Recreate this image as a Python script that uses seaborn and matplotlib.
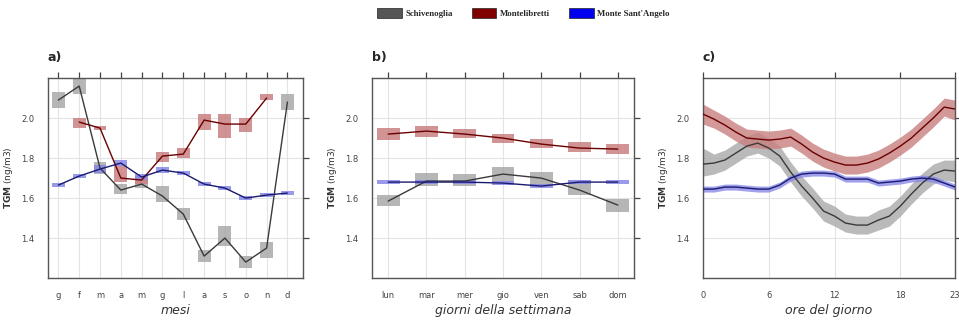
import numpy as np
import pandas as pd
import matplotlib
matplotlib.use("Agg")
import matplotlib.pyplot as plt
import matplotlib.patches as mpatches
import seaborn as sns

# ---- data ----
sites = ["Schivenoglia", "Montelibretti", "Monte Sant'Angelo"]

mesi = ["g", "f", "m", "a", "m", "g", "l", "a", "s", "o", "n", "d"]
schiv_m = [2.09, 2.16, 1.75, 1.64, 1.67, 1.61, 1.52, 1.31, 1.40, 1.28, 1.35, 2.08]
schiv_m_lo = [2.05, 2.12, 1.72, 1.62, 1.65, 1.58, 1.49, 1.28, 1.36, 1.25, 1.30, 2.04]
schiv_m_hi = [2.13, 2.20, 1.78, 1.67, 1.69, 1.66, 1.55, 1.34, 1.46, 1.31, 1.38, 2.12]
monte_m = [np.nan, 1.98, 1.95, 1.70, 1.69, 1.81, 1.82, 1.99, 1.97, 1.97, 2.10, np.nan]
monte_m_lo = [np.nan, 1.95, 1.94, 1.68, 1.67, 1.78, 1.80, 1.94, 1.90, 1.93, 2.09, np.nan]
monte_m_hi = [np.nan, 2.00, 1.96, 1.76, 1.71, 1.83, 1.85, 2.02, 2.02, 2.00, 2.12, np.nan]
msa_m = [1.665, 1.71, 1.745, 1.775, 1.705, 1.74, 1.725, 1.67, 1.65, 1.60, 1.615, 1.625]
msa_m_lo = [1.655, 1.70, 1.725, 1.76, 1.69, 1.725, 1.715, 1.66, 1.64, 1.59, 1.605, 1.615]
msa_m_hi = [1.675, 1.72, 1.765, 1.79, 1.72, 1.755, 1.735, 1.68, 1.66, 1.61, 1.625, 1.635]

giorni = ["lun", "mar", "mer", "gio", "ven", "sab", "dom"]
schiv_g = [1.585, 1.685, 1.685, 1.72, 1.70, 1.64, 1.565]
schiv_g_lo = [1.56, 1.66, 1.66, 1.68, 1.665, 1.615, 1.53]
schiv_g_hi = [1.615, 1.725, 1.72, 1.755, 1.73, 1.69, 1.595]
monte_g = [1.92, 1.935, 1.92, 1.90, 1.87, 1.85, 1.845]
monte_g_lo = [1.89, 1.905, 1.90, 1.875, 1.85, 1.83, 1.82]
monte_g_hi = [1.95, 1.96, 1.945, 1.92, 1.895, 1.88, 1.87]
msa_g = [1.68, 1.68, 1.68, 1.675, 1.66, 1.68, 1.68]
msa_g_lo = [1.67, 1.67, 1.67, 1.665, 1.65, 1.67, 1.67]
msa_g_hi = [1.69, 1.69, 1.69, 1.685, 1.67, 1.69, 1.69]

ore = list(range(24))
schiv_h = [1.77, 1.775, 1.79, 1.825, 1.86, 1.875, 1.85, 1.81, 1.73, 1.66, 1.60, 1.535,
           1.51, 1.475, 1.465, 1.465, 1.49, 1.51, 1.56, 1.62, 1.675, 1.72, 1.74, 1.735]
schiv_h_lo = [1.71, 1.72, 1.74, 1.775, 1.81, 1.825, 1.80, 1.76, 1.68, 1.61, 1.55, 1.485,
              1.46, 1.43, 1.42, 1.42, 1.44, 1.46, 1.51, 1.57, 1.625, 1.67, 1.69, 1.68]
schiv_h_hi = [1.85, 1.82, 1.84, 1.875, 1.91, 1.93, 1.90, 1.86, 1.78, 1.71, 1.65, 1.585,
              1.56, 1.52, 1.51, 1.51, 1.54, 1.56, 1.61, 1.67, 1.725, 1.77, 1.79, 1.79]
monte_h = [2.02, 1.995, 1.965, 1.93, 1.90, 1.895, 1.89, 1.895, 1.905, 1.87, 1.83, 1.80,
           1.78, 1.765, 1.765, 1.775, 1.795, 1.825, 1.86, 1.90, 1.95, 2.00, 2.055, 2.045]
monte_h_lo = [1.97, 1.95, 1.92, 1.885, 1.855, 1.85, 1.845, 1.85, 1.86, 1.825, 1.785, 1.755,
              1.735, 1.72, 1.72, 1.73, 1.75, 1.78, 1.815, 1.855, 1.905, 1.955, 2.01, 1.99]
monte_h_hi = [2.07, 2.04, 2.01, 1.975, 1.945, 1.94, 1.935, 1.94, 1.95, 1.915, 1.875, 1.845,
              1.825, 1.81, 1.81, 1.82, 1.84, 1.87, 1.905, 1.945, 1.995, 2.045, 2.10, 2.09]
msa_h = [1.645, 1.645, 1.655, 1.655, 1.65, 1.645, 1.645, 1.665, 1.70, 1.72, 1.725, 1.725,
         1.72, 1.695, 1.695, 1.695, 1.675, 1.68, 1.685, 1.695, 1.70, 1.695, 1.675, 1.655]
msa_h_lo = [v - 0.015 for v in msa_h]
msa_h_hi = [v + 0.015 for v in msa_h]

yticks = [1.4, 1.6, 1.8, 2.0]

# ---- style ----
line_cols = ["#3a3a3a", "#6b0000", "#1a1a70"]
fill_cols = ["#a9a9a9", "#c98080", "#8888e8"]
legend_cols = ["#555555", "#800000", "#0000ee"]

sns.set_style("white")
plt.rcParams["font.family"] = ["DejaVu Sans"]

fig = plt.figure(figsize=(9.59, 3.2), dpi=100)
ax_a = fig.add_axes([0.050, 0.131, 0.266, 0.625])
ax_b = fig.add_axes([0.388, 0.131, 0.273, 0.625])
ax_c = fig.add_axes([0.733, 0.131, 0.263, 0.625])


def style_axis(ax, letter, xlabel, ticklabels, xticks):
    ax.set_ylim(1.2, 2.2)
    ax.set_yticks(yticks)
    ax.set_yticklabels([f"{v:.1f}" for v in yticks], fontsize=6, color="#444444")
    ax.set_xticks(xticks)
    ax.set_xticklabels(ticklabels, fontsize=6, color="#444444")
    ax.grid(True, color="#e3e3e3", linewidth=0.8)
    ax.set_axisbelow(True)
    for s in ax.spines.values():
        s.set_color("#555555")
        s.set_linewidth(1.0)
    ax.tick_params(axis="both", which="both", direction="out", length=4, width=0.9,
                   color="#444444", top=True, right=True)
    ax.tick_params(axis="x", pad=5)
    ax.tick_params(axis="y", pad=6)
    ax.set_ylabel(r"$\mathbf{TGM}$ (ng/m3)", fontsize=6.5, color="#333333", labelpad=4)
    ax.set_xlabel(xlabel, fontsize=9, style="italic", color="#333333", labelpad=3)
    ax.text(0.0, 1.07, letter, transform=ax.transAxes, fontsize=9, fontweight="bold",
            ha="left", va="bottom")


def boxes_and_lines(ax, x, series, width):
    for (mean, lo, hi), fc in zip(series, fill_cols):
        lo = np.array(lo, dtype=float)
        hi = np.array(hi, dtype=float)
        ax.bar(x, hi - lo, bottom=lo, width=width, color=fc, alpha=0.85,
               edgecolor="none", zorder=2)
    for (mean, lo, hi), lc in zip(series, line_cols):
        df = pd.DataFrame({"x": x, "y": mean}).dropna()
        sns.lineplot(data=df, x="x", y="y", ax=ax, color=lc, linewidth=1.0,
                     zorder=3, legend=False)


# a) mesi
xm = np.arange(len(mesi))
boxes_and_lines(ax_a, xm, [(schiv_m, schiv_m_lo, schiv_m_hi),
                           (monte_m, monte_m_lo, monte_m_hi),
                           (msa_m, msa_m_lo, msa_m_hi)], 0.62)
ax_a.set_xlim(-0.5, 11.75)
style_axis(ax_a, "a)", "mesi", mesi, xm)

# b) giorni
xg = np.arange(len(giorni))
boxes_and_lines(ax_b, xg, [(schiv_g, schiv_g_lo, schiv_g_hi),
                           (monte_g, monte_g_lo, monte_g_hi),
                           (msa_g, msa_g_lo, msa_g_hi)], 0.6)
ax_b.set_xlim(-0.42, 6.42)
style_axis(ax_b, "b)", "giorni della settimana", giorni, xg)

# c) ore
for (mean, lo, hi), fc in zip([(schiv_h, schiv_h_lo, schiv_h_hi),
                               (monte_h, monte_h_lo, monte_h_hi),
                               (msa_h, msa_h_lo, msa_h_hi)], fill_cols):
    ax_c.fill_between(ore, lo, hi, color=fc, alpha=0.8, linewidth=0, zorder=2)
for mean, lc in zip([schiv_h, monte_h, msa_h], line_cols):
    sns.lineplot(x=ore, y=mean, ax=ax_c, color=lc, linewidth=1.0, zorder=3)
ax_c.set_xlim(0, 23)
style_axis(ax_c, "c)", "ore del giorno", ["0", "6", "12", "18", "23"], [0, 6, 12, 18, 23])

# legend on top
handles = [mpatches.Patch(facecolor=c, edgecolor="#222222", linewidth=0.5, label=s)
           for s, c in zip(sites, legend_cols)]
fig.legend(handles=handles, loc="upper center", bbox_to_anchor=(0.546, 1.0), ncol=3,
           frameon=False, prop={"family": "Liberation Serif", "weight": "bold", "size": 6.3},
           handlelength=2.8, handleheight=1.4, columnspacing=2.2, handletextpad=0.4)

fig.savefig("out.png", dpi=100)
